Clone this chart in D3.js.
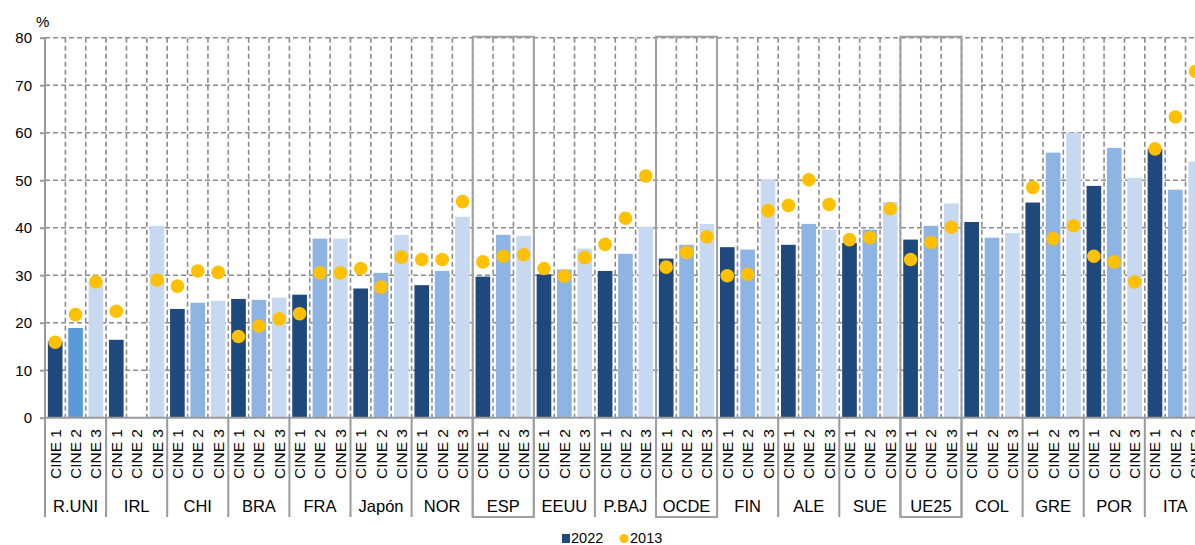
<!DOCTYPE html>
<html><head><meta charset="utf-8">
<script src="https://cdn.jsdelivr.net/npm/d3@7"></script>
<style>html,body{margin:0;padding:0;background:#fff;overflow:hidden}svg{display:block;font-family:"Liberation Sans",Arial,sans-serif}</style>
</head><body>
<svg id="chart" width="1195" height="545"></svg>
<script>
const groups = ["R.UNI","IRL","CHI","BRA","FRA","Japón","NOR","ESP","EEUU","P.BAJ","OCDE","FIN","ALE","SUE","UE25","COL","GRE","POR","ITA"];
const levels = ["CINE 1","CINE 2","CINE 3"];
const highlighted = ["ESP","OCDE","UE25"];
const yTicks = [0,10,20,30,40,50,60,70,80];
const seriesNames = ["2022","2013"];
const cine1_2022 = [16.1,16.4,22.9,25.0,25.9,27.2,27.9,29.7,30.2,30.9,33.5,35.9,36.4,36.8,37.5,41.2,45.3,48.8,56.6];
const cine2_2022 = [18.9,null,24.2,24.8,37.7,30.5,30.9,38.5,31.2,34.5,36.4,35.4,40.8,39.6,40.4,37.9,55.8,56.8,48.0];
const cine3_2022 = [28.7,40.4,24.6,25.3,37.7,38.5,42.3,38.3,35.6,40.2,40.8,50.2,39.6,45.4,45.1,38.9,60.0,50.5,53.9];
const cine1_2013 = [15.9,22.4,27.7,17.1,21.9,31.4,33.3,32.8,31.4,36.5,31.7,29.9,44.7,37.5,33.3,null,48.5,34.0,56.6];
const cine2_2013 = [21.7,null,30.9,19.3,30.5,27.5,33.3,34.0,29.8,42.0,34.8,30.2,50.1,37.9,36.9,null,37.7,32.8,63.3];
const cine3_2013 = [28.6,29.0,30.6,20.8,30.5,33.8,45.5,34.3,33.7,50.9,38.1,43.6,44.9,44.0,40.1,null,40.4,28.6,72.9];

(function(){
const v2022 = [cine1_2022,cine2_2022,cine3_2022];
const v2013 = [cine1_2013,cine2_2013,cine3_2013];
const rows = [];
groups.forEach((g,gi)=>levels.forEach((l,li)=>rows.push({g,l,gi,li,v22:v2022[li][gi],v13:v2013[li][gi]})));

const svg = d3.select("#chart");
const pLeft = 45, groupW = 61.1, pTop = 37.7, pBottom = 417.7, labelBottom = 517;
const x = d3.scaleBand().domain(groups).range([pLeft, pLeft+groups.length*groupW]).padding(0);
const xi = d3.scaleBand().domain(levels).range([0, x.bandwidth()]).padding(0);
const y = d3.scaleLinear().domain([0,80]).range([pBottom, pTop]);
const grid = "#8c8c8c", axisC = "#9a9a9a";
const navy = "#1F497D", c2 = "#8EB4E3", c2b = "#5B9BD5", c3 = "#C6D9F1", gold = "#FFC000";

svg.append("g").selectAll("line").data(yTicks.filter(t=>t>0)).join("line")
  .attr("x1",pLeft).attr("x2",1195).attr("y1",d=>y(d)).attr("y2",d=>y(d))
  .attr("stroke",grid).attr("stroke-width",1.6).attr("stroke-dasharray","5,3");
const vlines = [];
groups.forEach(g=>levels.forEach(l=>vlines.push(x(g)+xi(l)+xi.bandwidth())));
svg.append("g").selectAll("line").data(vlines).join("line")
  .attr("x1",d=>d).attr("x2",d=>d).attr("y1",pTop).attr("y2",pBottom)
  .attr("stroke",grid).attr("stroke-width",1.6).attr("stroke-dasharray","5,3");

const bw = xi.bandwidth()*0.72;
svg.append("g").selectAll("rect").data(rows.filter(r=>r.v22!=null)).join("rect")
  .attr("x",r=>x(r.g)+xi(r.l)+(xi.bandwidth()-bw)/2)
  .attr("width",bw)
  .attr("y",r=>y(r.v22)).attr("height",r=>y(0)-y(r.v22))
  .attr("fill",r=>r.li===0?navy:(r.li===1?(r.gi===0?c2b:c2):c3));

const ya = svg.append("g").attr("transform",`translate(${pLeft},0)`)
  .call(d3.axisLeft(y).tickValues(yTicks).tickSize(5).tickPadding(8));
ya.select(".domain").remove();
ya.selectAll(".tick line").attr("stroke",axisC).attr("stroke-width",2);
ya.selectAll(".tick text").attr("font-size",15).attr("fill","#000").attr("font-family","Liberation Sans, Arial, sans-serif");
svg.append("line").attr("x1",pLeft).attr("x2",pLeft).attr("y1",pTop).attr("y2",labelBottom).attr("stroke",axisC).attr("stroke-width",2);
svg.append("line").attr("x1",pLeft).attr("x2",1195).attr("y1",pBottom).attr("y2",pBottom).attr("stroke",axisC).attr("stroke-width",2);
svg.append("text").attr("x",36).attr("y",27).attr("font-size",15).text("%");

svg.append("g").selectAll("line").data(groups.slice(1)).join("line")
  .attr("x1",g=>x(g)).attr("x2",g=>x(g)).attr("y1",pBottom).attr("y2",labelBottom)
  .attr("stroke",axisC).attr("stroke-width",2);

svg.append("g").selectAll("rect").data(highlighted).join("rect")
  .attr("x",g=>x(g)).attr("width",x.bandwidth()).attr("y",pTop-1).attr("height",labelBottom-pTop+1)
  .attr("fill","none").attr("stroke","#a0a0a0").attr("stroke-width",2);

svg.append("g").selectAll("text").data(rows).join("text")
  .attr("transform",r=>`translate(${x(r.g)+xi(r.l)+xi.bandwidth()/2+5.5},429) rotate(-90)`)
  .attr("text-anchor","end").attr("font-size",15.5).attr("fill","#000").text(r=>r.l);
svg.append("g").selectAll("text").data(groups).join("text")
  .attr("x",g=>x(g)+x.bandwidth()/2).attr("y",512).attr("text-anchor","middle")
  .attr("font-size",16.5).attr("fill","#000").text(g=>g);

svg.append("g").selectAll("circle").data(rows.filter(r=>r.v13!=null)).join("circle")
  .attr("cx",r=>x(r.g)+xi(r.l)+xi.bandwidth()/2).attr("cy",r=>y(r.v13)).attr("r",6.8)
  .attr("fill",gold);

const lg = svg.append("g");
lg.append("rect").attr("x",562).attr("y",534).attr("width",8).attr("height",9).attr("fill",navy);
lg.append("text").attr("x",571).attr("y",542.5).attr("font-size",14.5).text(seriesNames[0]);
lg.append("circle").attr("cx",624).attr("cy",538.5).attr("r",4.5).attr("fill",gold);
lg.append("text").attr("x",630).attr("y",542.5).attr("font-size",14.5).text(seriesNames[1]);
})();
</script>
</body></html>
